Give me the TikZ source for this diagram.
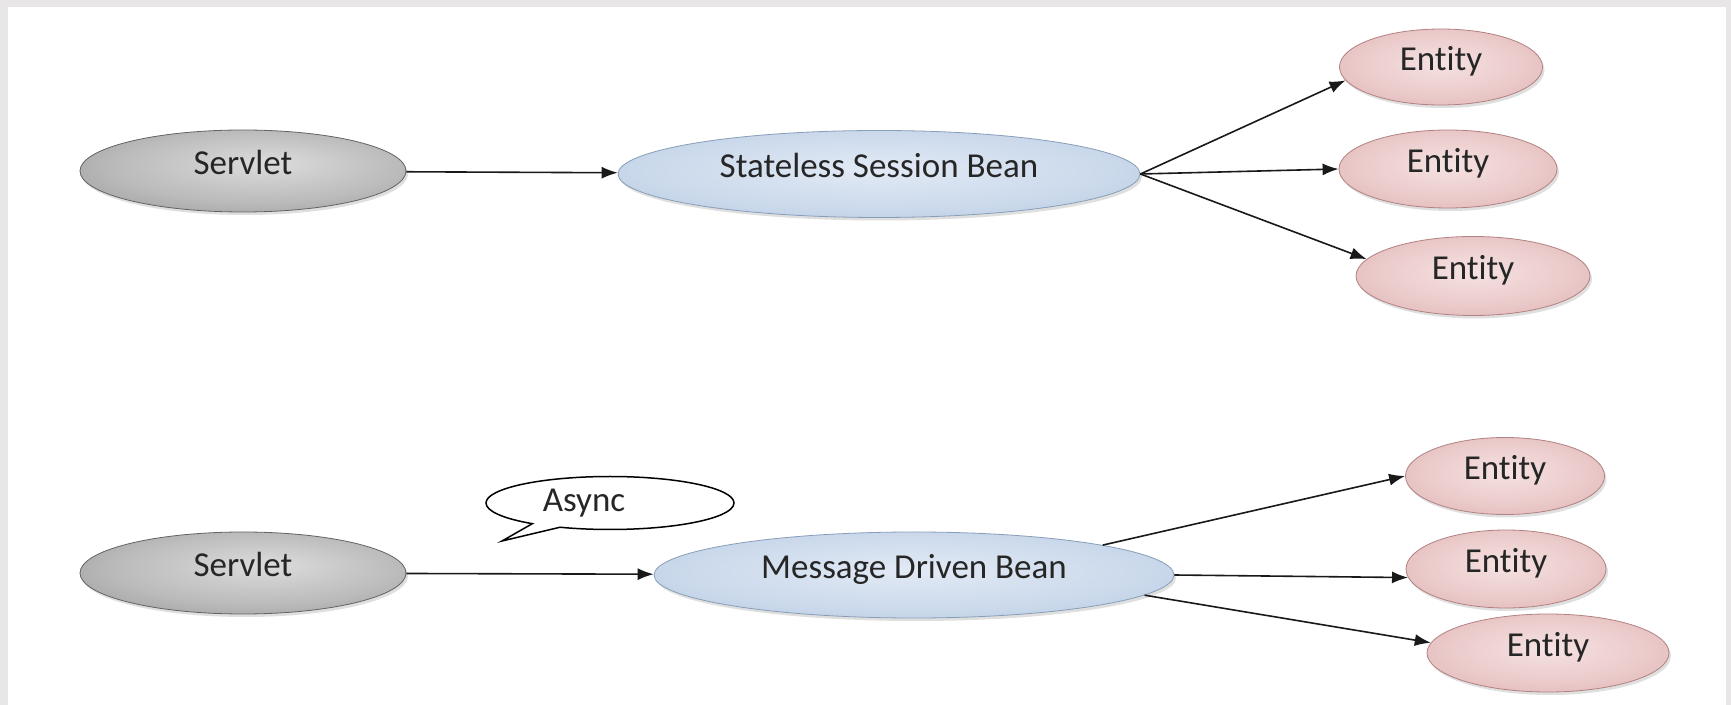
\documentclass[tikz,border=0pt]{standalone}
\usepackage{fontspec}
\setmainfont[Ligatures=NoCommon]{Carlito}
\usetikzlibrary{shapes.geometric,shapes.callouts,arrows.meta,shadows}
\definecolor{framegray}{HTML}{E8E6E6}
\definecolor{txt}{HTML}{262626}
\definecolor{grayout}{HTML}{7C7C7C}
\definecolor{grayin}{HTML}{DCDCDC}
\definecolor{blueout}{HTML}{A0BAD9}
\definecolor{bluein}{HTML}{E2EAF5}
\definecolor{pinkout}{HTML}{D39898}
\definecolor{pinkin}{HTML}{F6E2E2}
\pgfdeclareradialshading{softgray}{\pgfpoint{4bp}{5bp}}{color(0bp)=(grayin); color(22bp)=(grayin!65!grayout); color(50bp)=(grayout)}
\pgfdeclareradialshading{softblue}{\pgfpoint{0bp}{3bp}}{color(0bp)=(bluein); color(22bp)=(bluein!65!blueout); color(50bp)=(blueout)}
\pgfdeclareradialshading{softpink}{\pgfpoint{0bp}{3bp}}{color(0bp)=(pinkin); color(22bp)=(pinkin!65!pinkout); color(50bp)=(pinkout)}
\begin{document}
\begin{tikzpicture}[x=0.5pt,y=-0.5pt,
  every node/.style={font=\fontsize{17.5}{20}\selectfont, text=txt},
  oval/.style={ellipse, inner sep=0pt, text height=12pt, text depth=8pt, line width=0.4pt,
    drop shadow={opacity=0.25,shadow xshift=1pt,shadow yshift=-1.5pt}},
  servletnode/.style={oval, draw=grayout!80!black, shading=softgray,
    minimum width=163pt, minimum height=41pt},
  beannode/.style={oval, draw=blueout!85!black, shading=softblue},
  entitynode/.style={oval, draw=pinkout!85!black, shading=softpink},
  link/.style={-{Latex[length=8pt,width=6pt]}, line width=0.8pt, draw=black!90}
]
\fill[framegray] (0,0) rectangle (1731,705);
\fill[white] (8,7) rectangle (1726,705);
\useasboundingbox (0,0) rectangle (1731,705);

% upper row
\node[servletnode] (sv1) at (243,171) {Servlet};
\node[beannode, minimum width=261pt, minimum height=43.5pt] (ssb) at (879,174) {Stateless Session Bean};
\node[entitynode, minimum width=101.5pt, minimum height=38pt] (e1) at (1441,67) {Entity};
\node[entitynode, minimum width=109pt, minimum height=39pt] (e2) at (1448,169) {Entity};
\node[entitynode, minimum width=117pt, minimum height=39.5pt] (e3) at (1473,276) {Entity};

% lower row
\node[servletnode] (sv2) at (243,573) {Servlet};
\node[beannode, minimum width=260pt, minimum height=43pt] (mdb) at (914,575) {Message Driven Bean};
\node[entitynode, minimum width=99.5pt, minimum height=38.5pt] (e4) at (1505,476) {Entity};
\node[entitynode, minimum width=100pt, minimum height=39pt] (e5) at (1506,569) {Entity};
\node[entitynode, minimum width=121pt, minimum height=39pt] (e6) at (1548,653) {Entity};

\node[ellipse callout, draw=black, line width=0.75pt, fill=white, inner sep=0pt,
  minimum width=124pt, minimum height=26.5pt, callout absolute pointer={(502,541)}]
  (async) at (610,503) {Async\hspace*{26pt}};

\draw[link] (sv1) -- (ssb);
\draw[link] (ssb.east) -- (e1.188);
\draw[link] (ssb.east) -- (e2.west);
\draw[link] (ssb.east) -- (e3.171);
\draw[link] (sv2) -- (mdb);
\draw[link] (mdb.9) -- (e4.west);
\draw[link] (mdb.east) -- (e5.185);
\draw[link] (mdb.355) -- (e6.175);
\end{tikzpicture}
\end{document}
